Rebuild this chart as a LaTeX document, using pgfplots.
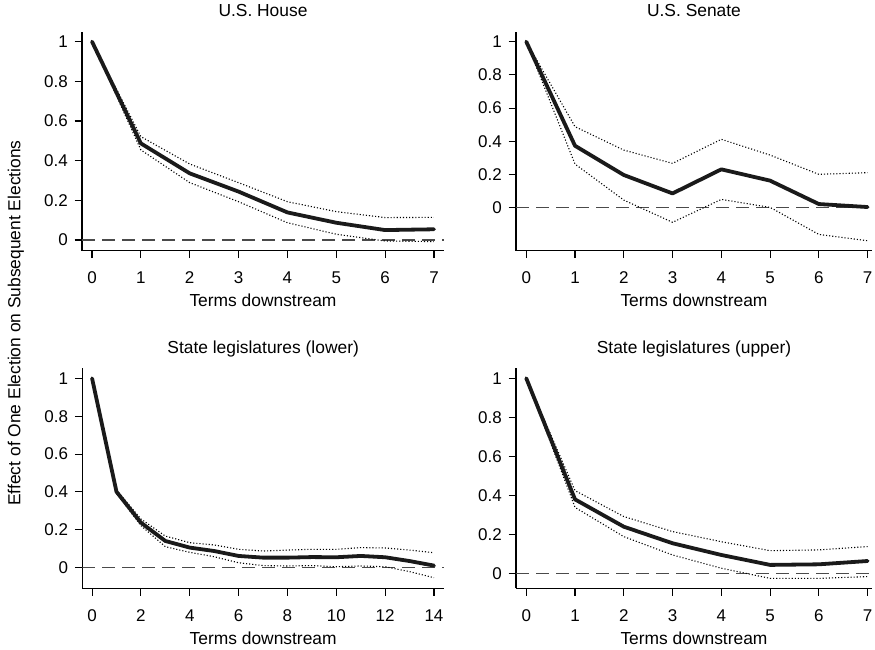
\documentclass[border=0pt]{standalone}
\usepackage{fontspec}
\setmainfont{Liberation Sans}
\usepackage{pgfplots}
\pgfplotsset{compat=1.18}
\definecolor{zeroc}{HTML}{4A4A4A}
\definecolor{mainc}{HTML}{1A1A1A}
\pgfplotsset{
  rpanel/.style={
    scale only axis,
    axis x line=bottom, axis y line=left,
    axis line style={-, line width=1.1pt, black},
    tick align=outside,
    major tick length=7.5pt,
    tick style={black, line width=1.1pt},
    /pgf/number format/assume math mode=true,
    /pgf/number format/fixed,
    every tick label/.append style={font=\fontsize{17}{20}\selectfont},
    yticklabel style={anchor=east, inner sep=0pt, xshift=-6.5pt},
    xticklabel style={anchor=north, inner sep=0pt, yshift=-13.5pt},
    ytick={0,0.2,0.4,0.6,0.8,1},
    title style={at={(axis description cs:0.5,1)}, anchor=base, yshift=9pt, inner sep=0pt, font=\fontsize{17.4}{20}\selectfont},
    xlabel style={at={(axis description cs:0.5,0)}, anchor=base, yshift=-56pt, inner sep=0pt, font=\fontsize{17.4}{20}\selectfont},
    xlabel={Terms downstream},
    anchor=south west,
  },
  est/.style={mainc, line width=3.8pt, line join=round, line cap=round},
  ci/.style={black, line width=1.1pt, dash pattern=on 1.1pt off 2pt},
  zero/.style={zeroc, line width=1.4pt, dash pattern=on 13pt off 7pt},
}
\begin{document}
\begin{tikzpicture}[x=1pt,y=1pt]
\useasboundingbox (0,0) rectangle (875,-649);
\node[rotate=90, font=\fontsize{17.4}{20}\selectfont] at (16,-323) {Effect of One Election on Subsequent Elections};

% U.S. House
\begin{axis}[rpanel, at={(82pt,-250.7pt)}, width=362pt, height=219pt,
  xmin=-0.205, xmax=7.205, ymin=-0.054, ymax=1.05, xtick={0,...,7},
  title={U.S. House}]
\addplot[zero] coordinates {(-0.205,0) (7.205,0)};
\addplot[ci] coordinates {(0,1) (1,0.521) (2,0.383) (3,0.289) (4,0.193) (5,0.143) (6,0.113) (7,0.114)};
\addplot[ci] coordinates {(0,1) (1,0.454) (2,0.289) (3,0.193) (4,0.087) (5,0.029) (6,-0.005) (7,-0.008)};
\addplot[est] coordinates {(0,1) (1,0.487) (2,0.336) (3,0.244) (4,0.139) (5,0.087) (6,0.050) (7,0.054)};
\end{axis}

% U.S. Senate
\begin{axis}[rpanel, at={(516pt,-250.7pt)}, width=356pt, height=219pt,
  xmin=-0.21, xmax=7.09, ymin=-0.259, ymax=1.06, xtick={0,...,7},
  title={U.S. Senate}]
\addplot[zero] coordinates {(-0.21,0) (7.09,0)};
\addplot[ci] coordinates {(0,1) (1,0.488) (2,0.347) (3,0.267) (4,0.412) (5,0.317) (6,0.201) (7,0.211)};
\addplot[ci] coordinates {(0,1) (1,0.263) (2,0.046) (3,-0.088) (4,0.050) (5,0.002) (6,-0.161) (7,-0.199)};
\addplot[est] coordinates {(0,1) (1,0.373) (2,0.197) (3,0.086) (4,0.231) (5,0.163) (6,0.022) (7,0.004)};
\end{axis}

% State legislatures (lower)
\begin{axis}[rpanel, at={(82.3pt,-588.3pt)}, width=361.7pt, height=220pt,
  xmin=-0.4, xmax=14.41, ymin=-0.109, ymax=1.053, xtick={0,2,...,14},
  title={State legislatures (lower)}]
\addplot[zero] coordinates {(-0.4,0) (14.41,0)};
\addplot[ci] coordinates {(0,1) (1,0.41) (2,0.257) (3,0.167) (4,0.132) (5,0.12) (6,0.097) (7,0.088) (8,0.093) (9,0.097) (10,0.097) (11,0.106) (12,0.104) (13,0.093) (14,0.079)};
\addplot[ci] coordinates {(0,1) (1,0.393) (2,0.222) (3,0.111) (4,0.081) (5,0.058) (6,0.026) (7,0.011) (8,0.009) (9,0.011) (10,0.005) (11,0.009) (12,0.005) (13,-0.021) (14,-0.053)};
\addplot[est] coordinates {(0,1) (1,0.401) (2,0.238) (3,0.141) (4,0.106) (5,0.088) (6,0.062) (7,0.053) (8,0.053) (9,0.056) (10,0.055) (11,0.062) (12,0.055) (13,0.035) (14,0.011)};
\end{axis}

% State legislatures (upper)
\begin{axis}[rpanel, at={(516pt,-588.3pt)}, width=356pt, height=220pt,
  xmin=-0.21, xmax=7.09, ymin=-0.077, ymax=1.051, xtick={0,...,7},
  title={State legislatures (upper)}]
\addplot[zero] coordinates {(-0.21,0) (7.09,0)};
\addplot[ci] coordinates {(0,1) (1,0.424) (2,0.291) (3,0.214) (4,0.162) (5,0.116) (6,0.120) (7,0.137)};
\addplot[ci] coordinates {(0,1) (1,0.338) (2,0.188) (3,0.094) (4,0.026) (5,-0.026) (6,-0.026) (7,-0.017)};
\addplot[est] coordinates {(0,1) (1,0.379) (2,0.239) (3,0.154) (4,0.094) (5,0.043) (6,0.046) (7,0.063)};
\end{axis}
\end{tikzpicture}
\end{document}
